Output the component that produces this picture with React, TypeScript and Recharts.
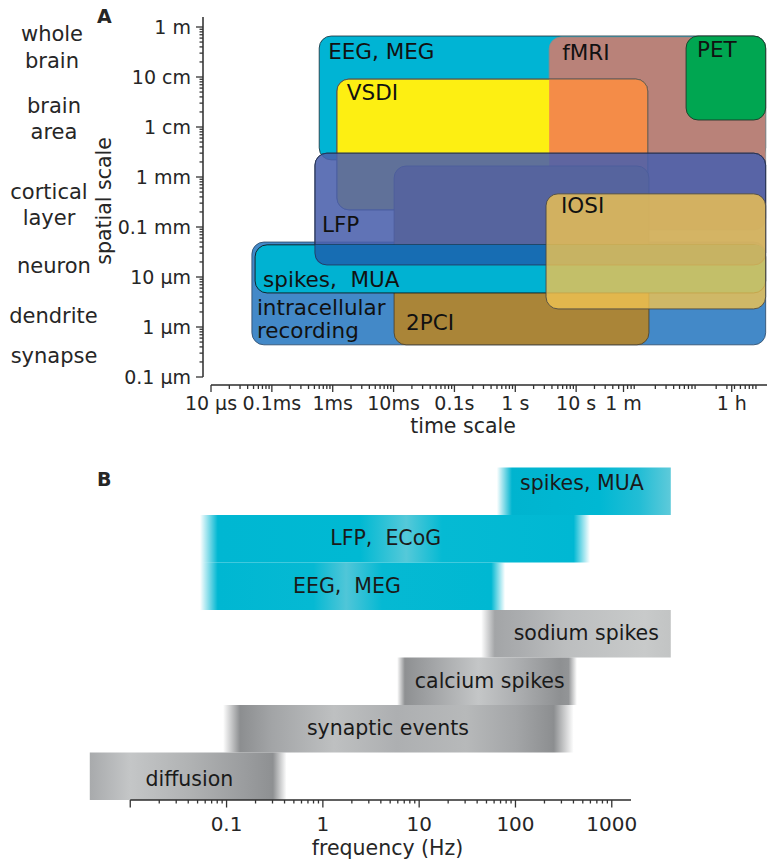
import React from 'react';
import { ComposedChart, XAxis, YAxis, ReferenceArea, ReferenceLine } from 'recharts';

const FONT = '"DejaVu Sans", Verdana, sans-serif';
const INK = '#262626';

// ---------------- Panel A data (time in s, spatial size in m) ----------------
const methodKeys = ['intracellular', 'EEG', 'fMRI', 'PET', 'VSDI', '2PCI', 'LFP', 'spikes', 'IOSI'];
const methodLabels = [['intracellular', 'recording'], ['EEG, MEG'], ['fMRI'], ['PET'], ['VSDI'], ['2PCI'], ['LFP'], ['spikes,  MUA'], ['IOSI']];
const timeLow = [4.7e-5, 6.0e-4, 3.6, 640, 1.17e-3, 0.0102, 5.1e-4, 5.3e-5, 3.2];
const timeHigh = [13000, 13000, 13000, 13000, 150, 157, 13000, 13000, 13000];
const sizeLow = [4.4e-7, 2.2e-3, 8.7e-5, 0.0138, 2.2e-4, 4.4e-7, 1.74e-5, 4.8e-6, 2.3e-6];
const sizeHigh = [5.0e-5, 0.66, 0.63, 0.66, 0.091, 1.66e-3, 3.0e-3, 4.4e-5, 4.6e-4];

const timeTicks = [1e-5, 1e-4, 1e-3, 1e-2, 0.1, 1, 10, 60, 3600];
const timeTickLabels = ['10 µs', '0.1ms', '1ms', '10ms', '0.1s', '1 s', '10 s', '1 m', '1 h'];
const sizeTicks = [1, 0.1, 0.01, 1e-3, 1e-4, 1e-5, 1e-6, 1e-7];
const sizeTickLabels = ['1 m', '10 cm', '1 cm', '1 mm', '0.1 mm', '10 µm', '1 µm', '0.1 µm'];
const scaleLevels = [['whole', 'brain'], ['brain', 'area'], ['cortical', 'layer'], ['neuron'], ['dendrite'], ['synapse']];

// ---------------- Panel B data (frequency in Hz) ----------------
const bandLabels = ['spikes, MUA', 'LFP,  ECoG', 'EEG,  MEG', 'sodium spikes', 'calcium spikes', 'synaptic events', 'diffusion'];
const bandFadeLow = [64, 0.053, 0.053, 44, 5.9, 0.092, 0.0038];
const bandLow = [92, 0.081, 0.081, 61, 7.1, 0.138, 0.0038];
const bandHigh = [4100, 402, 56, 4100, 356, 250, 0.303];
const bandFadeHigh = [4100, 594, 78, 4100, 435, 402, 0.42];
const freqTicks = [0.01, 0.1, 1, 10, 100, 1000];
const freqTickLabels = ['', '0.1', '1', '10', '100', '1000'];

// ---------------- styles ----------------
const X_DOMAIN_A: [number, number] = [Math.pow(10, -5.1315), Math.pow(10, 4.136)];
const Y_DOMAIN_A: [number, number] = [Math.pow(10, -7.16), Math.pow(10, 0.2)];
const X_DOMAIN_B: [number, number] = [Math.pow(10, -2.418), Math.pow(10, 3.615)];
const FREQ_AXIS_END = Math.pow(10, 3.2);

const boxStyle: Record<string, any> = {
  intracellular: { fill: '#4389C8', opacity: 1, stroke: '#2e4c6c' },
  EEG: { fill: '#00B4D4', opacity: 1, stroke: '#1d3440' },
  fMRI: { fill: '#B98279', opacity: 1, stroke: '#8c8c8c' },
  PET: { fill: '#00A651', opacity: 1, stroke: '#1c3326' },
  VSDI: { fill: '#FDEF12', opacity: 1, stroke: '#555555' },
  '2PCI': { fill: '#AA8538', opacity: 1, stroke: '#4f4128' },
  LFP: { fill: '#4A60AC', opacity: 0.88, stroke: '#263355' },
  spikes: { fill: '#00B2D2', opacity: 1, stroke: '#111111' },
  IOSI: { fill: '#EEC252', opacity: 0.82, stroke: '#444444' },
};
const overlapFill: Record<string, string> = { 'VSDI|fMRI': '#F48C48', 'LFP|spikes': '#176DB3' };
const boxLabelPos: Record<string, any> = {
  intracellular: { dx: 5, dy: -30, from: 'bottom' },
  EEG: { dx: 9, dy: 23, from: 'top' },
  fMRI: { dx: 13, dy: 23, from: 'top' },
  PET: { dx: 11, dy: 21, from: 'top' },
  VSDI: { dx: 10, dy: 21, from: 'top' },
  '2PCI': { dx: 12, dy: -15, from: 'bottom' },
  LFP: { dx: 7, dy: -33, from: 'bottom' },
  spikes: { dx: 8, dy: -6, from: 'bottom' },
  IOSI: { dx: 15, dy: 19, from: 'top' },
};
const layers = [
  { key: 'intracellular' },
  { key: 'EEG' },
  { key: 'fMRI' },
  { key: 'PET' },
  { key: 'VSDI' },
  { key: 'VSDI', overlap: 'fMRI' },
  { key: 'VSDI', outlineOnly: true },
  { key: '2PCI' },
  { key: 'LFP' },
  { key: 'spikes' },
  { key: 'LFP', overlap: 'spikes' },
  { key: 'LFP', outlineOnly: true },
  { key: 'IOSI' },
];
const bandStyle: Record<string, any> = {
  'spikes, MUA': { stops: [[0, '#00B4CF'], [0.55, '#00B8D3'], [0.8, '#22BDD5'], [1, '#5ECADA']], dx: -9.5, dy: -7.5 },
  'LFP,  ECoG': { stops: [[0, '#00B7D2'], [0.4, '#00B9D3'], [0.53, '#55C9D9'], [0.63, '#05BAD3'], [1, '#00B8D3']], dx: -10, dy: 0 },
  'EEG,  MEG': { stops: [[0, '#00B7D2'], [0.35, '#05B9D3'], [0.47, '#50C6D8'], [0.6, '#05B9D3'], [1, '#00B8D2']], dx: -7.5, dy: 0 },
  'sodium spikes': { stops: [[0, '#A3A5A7'], [0.15, '#ABADAF'], [0.4, '#BCBEBF'], [0.85, '#C8CACA'], [1, '#C2C4C4']], dx: 3.5, dy: 0 },
  'calcium spikes': { stops: [[0, '#8E9092'], [0.15, '#A0A2A4'], [0.45, '#C4C6C7'], [0.7, '#ABADAF'], [0.95, '#8E9092'], [1, '#939597']], dx: 3, dy: 0 },
  'synaptic events': { stops: [[0, '#8C8E90'], [0.1, '#A2A4A6'], [0.3, '#BEC0C1'], [0.5, '#ADAFB1'], [0.72, '#B7B9BA'], [0.88, '#A3A5A7'], [1, '#8C8E90']], dx: -9, dy: 0 },
  diffusion: { stops: [[0, '#A8AAAC'], [0.22, '#C4C6C7'], [0.55, '#B0B2B3'], [0.85, '#9A9C9E'], [1, '#8E9092']], dx: 8, dy: 3 },
};
const levelPos = [
  { x: 52, ys: [41, 68] },
  { x: 54, ys: [113, 139] },
  { x: 49, ys: [199, 225] },
  { x: 54, ys: [273] },
  { x: 53.5, ys: [323] },
  { x: 54, ys: [363] },
];

// ---------------- helpers ----------------
const lg = Math.log10;
const near = (a: number, b: number) => Math.abs(lg(a / b)) < 1e-6;

function minorTicks(lo: number, hi: number, majors: number[]) {
  const out: number[] = [];
  for (let d = Math.floor(lg(lo)); d <= Math.ceil(lg(hi)); d++) {
    for (let k = 2; k <= 9; k++) {
      const v = k * Math.pow(10, d);
      if (v >= lo * (1 - 1e-9) && v <= hi && !majors.some((m) => near(m, v))) out.push(v);
    }
  }
  return out;
}

const boxes = methodKeys.map((k, i) => ({
  key: k, label: methodLabels[i], t0: timeLow[i], t1: timeHigh[i], s0: sizeLow[i], s1: sizeHigh[i],
}));
const boxByKey: Record<string, any> = Object.fromEntries(boxes.map((b) => [b.key, b]));
const bandRows = bandLabels.map((l, i) => ({ name: l, lo: bandFadeLow[i], row: i + 0.5 }));

function intersect(a: any, b: any) {
  const t0 = Math.max(a.t0, b.t0), t1 = Math.min(a.t1, b.t1);
  const s0 = Math.max(a.s0, b.s0), s1 = Math.min(a.s1, b.s1);
  const src = [a, b];
  const round = [
    src.some((bx) => near(t0, bx.t0) && near(s1, bx.s1)),
    src.some((bx) => near(t1, bx.t1) && near(s1, bx.s1)),
    src.some((bx) => near(t1, bx.t1) && near(s0, bx.s0)),
    src.some((bx) => near(t0, bx.t0) && near(s0, bx.s0)),
  ];
  return { t0, t1, s0, s1, round };
}

function roundedPath(x: number, y: number, w: number, h: number, r: number[]) {
  const m = Math.min(w, h) / 2;
  const [tl, tr, br, bl] = r.map((v) => Math.max(0, Math.min(v, m)));
  return `M${x + tl},${y} H${x + w - tr} A${tr},${tr} 0 0 1 ${x + w},${y + tr} V${y + h - br} A${br},${br} 0 0 1 ${x + w - br},${y + h} H${x + bl} A${bl},${bl} 0 0 1 ${x},${y + h - bl} V${y + tl} A${tl},${tl} 0 0 1 ${x + tl},${y} Z`;
}

const R = 12;

const makeTick = (majors: number[], labels: string[], orient: 'bottom' | 'left', majorLen: number, minorLen: number, fontSize: number, textOff: number) =>
  (props: any) => {
    const { x, y, payload } = props;
    const idx = majors.findIndex((m) => near(m, payload.value));
    const major = idx >= 0;
    const len = major ? majorLen : minorLen;
    if (orient === 'bottom') {
      return (
        <g>
          <line x1={x} y1={y} x2={x} y2={y + len} stroke="#333" strokeWidth={1.3} />
          {major && labels[idx] ? (
            <text x={x} y={y + textOff} textAnchor="middle" fontSize={fontSize} fontFamily={FONT} fill={INK}>{labels[idx]}</text>
          ) : null}
        </g>
      );
    }
    return (
      <g>
        <line x1={x - len} y1={y} x2={x} y2={y} stroke="#333" strokeWidth={1.3} />
        {major && labels[idx] ? (
          <text x={x - textOff} y={y + 7} textAnchor="end" fontSize={fontSize} fontFamily={FONT} fill={INK}>{labels[idx]}</text>
        ) : null}
      </g>
    );
  };

const timeAllTicks = [...timeTicks, ...minorTicks(1e-5, X_DOMAIN_A[1], timeTicks)].sort((a, b) => a - b);
const sizeAllTicks = [...sizeTicks, ...minorTicks(1e-7, Y_DOMAIN_A[1], sizeTicks)].sort((a, b) => a - b);
const freqAllTicks = [...freqTicks, ...minorTicks(0.01, FREQ_AXIS_END, freqTicks)].sort((a, b) => a - b);

const TimeTick = makeTick(timeTicks, timeTickLabels, 'bottom', 7, 4, 19, 25);
const SizeTick = makeTick(sizeTicks, sizeTickLabels, 'left', 7, 3.5, 19, 12);
const FreqTick = makeTick(freqTicks, freqTickLabels, 'bottom', 7.5, 3.5, 20, 31);

function renderLayer(layer: any, i: number) {
  const b = boxByKey[layer.key];
  const st = boxStyle[layer.key];
  if (layer.overlap) {
    const o = boxByKey[layer.overlap];
    const p = intersect(b, o);
    const fill = overlapFill[`${layer.key}|${layer.overlap}`];
    return (
      <ReferenceArea key={`l${i}`} x1={p.t0} x2={p.t1} y1={p.s0} y2={p.s1} ifOverflow="visible"
        shape={(sp: any) => (
          <path d={roundedPath(sp.x, sp.y, sp.width, sp.height, p.round.map((f) => (f ? R : 0)))} fill={fill} stroke="none" />
        )} />
    );
  }
  const lp = boxLabelPos[layer.key];
  return (
    <ReferenceArea key={`l${i}`} x1={b.t0} x2={b.t1} y1={b.s0} y2={b.s1} ifOverflow="visible"
      shape={(sp: any) => {
        const d = roundedPath(sp.x, sp.y, sp.width, sp.height, [R, R, R, R]);
        if (layer.outlineOnly) {
          return <path d={d} fill="none" stroke={st.stroke} strokeWidth={1} strokeOpacity={0.8} />;
        }
        const baseY = lp.from === 'top' ? sp.y + lp.dy : sp.y + sp.height + lp.dy;
        return (
          <g>
            <path d={d} fill={st.fill} fillOpacity={st.opacity} stroke={st.stroke} strokeWidth={1} strokeOpacity={0.85} />
            {b.label.map((t: string, j: number) => (
              <text key={j} x={sp.x + lp.dx} y={baseY + j * 23} fontSize={21.5} fontFamily={FONT} fill="#111" style={{ whiteSpace: 'pre' }}>{t}</text>
            ))}
          </g>
        );
      }} />
  );
}

function renderBand(label: string, i: number) {
  const st = bandStyle[label];
  const a = lg(bandFadeLow[i]), bb = lg(bandFadeHigh[i]);
  const s0 = lg(bandLow[i]), s1 = lg(bandHigh[i]);
  const off = (v: number) => (v - a) / (bb - a);
  const gid = `bandgrad${i}`;
  const stops: any[] = [];
  if (bandFadeLow[i] < bandLow[i]) stops.push({ o: 0, c: st.stops[0][1], op: 0 });
  st.stops.forEach(([f, c]: [number, string]) => stops.push({ o: off(s0 + f * (s1 - s0)), c, op: 1 }));
  if (bandFadeHigh[i] > bandHigh[i]) stops.push({ o: 1, c: st.stops[st.stops.length - 1][1], op: 0 });
  const midFrac = off((s0 + s1) / 2);
  return (
    <ReferenceArea key={`b${i}`} x1={bandFadeLow[i]} x2={bandFadeHigh[i]} y1={i} y2={i + 1} ifOverflow="visible"
      shape={(sp: any) => (
        <g>
          <defs>
            <linearGradient id={gid} x1="0" y1="0" x2="1" y2="0">
              {stops.map((s, k) => (
                <stop key={k} offset={s.o} stopColor={s.c} stopOpacity={s.op} />
              ))}
            </linearGradient>
          </defs>
          <rect x={sp.x} y={sp.y} width={sp.width} height={sp.height} fill={`url(#${gid})`} />
          <text x={sp.x + sp.width * midFrac + st.dx} y={sp.y + sp.height / 2 + 6.5 + st.dy} textAnchor="middle"
            fontSize={20.5} fontFamily={FONT} fill="#1a1a1a" style={{ whiteSpace: 'pre' }}>{label}</text>
        </g>
      )} />
  );
}

export default function App() {
  return (
    <div style={{ position: 'absolute', left: 0, top: 0, width: 767, height: 861, background: '#fff' }}>
      <div style={{ position: 'absolute', left: 0, top: 0 }}>
        <ComposedChart width={767} height={450} data={boxes} margin={{ top: 17, right: 0, bottom: 0, left: 0 }}>
          <XAxis dataKey="t0" type="number" scale="log" domain={X_DOMAIN_A} allowDataOverflow ticks={timeAllTicks} interval={0}
            tick={TimeTick} tickLine={false} axisLine={false} tickSize={0} tickMargin={0} height={65} />
          <YAxis dataKey="s0" type="number" scale="log" domain={Y_DOMAIN_A} allowDataOverflow ticks={sizeAllTicks} interval={0}
            tick={SizeTick} tickLine={false} axisLine={false} tickSize={0} tickMargin={0} width={203} />
          {layers.map((l, i) => renderLayer(l, i))}
          <ReferenceLine segment={[{ x: 1e-5, y: Y_DOMAIN_A[0] }, { x: X_DOMAIN_A[1], y: Y_DOMAIN_A[0] }]} stroke="#2b2b2b" strokeWidth={1.5} ifOverflow="visible" />
          <ReferenceLine segment={[{ x: X_DOMAIN_A[0], y: 1e-7 }, { x: X_DOMAIN_A[0], y: Y_DOMAIN_A[1] }]} stroke="#2b2b2b" strokeWidth={1.5} ifOverflow="visible" />
        </ComposedChart>
      </div>
      <div style={{ position: 'absolute', left: 0, top: 455 }}>
        <ComposedChart width={767} height={406} data={bandRows} margin={{ top: 12.5, right: 96, bottom: 0, left: 90 }}>
          <XAxis dataKey="lo" type="number" scale="log" domain={X_DOMAIN_B} allowDataOverflow ticks={freqAllTicks} interval={0}
            tick={FreqTick} tickLine={false} axisLine={false} tickSize={0} tickMargin={0} height={61} />
          <YAxis dataKey="row" type="number" domain={[0, 7]} reversed hide width={0} allowDataOverflow />
          {bandLabels.map((l, i) => renderBand(l, i))}
          <ReferenceLine segment={[{ x: 0.01, y: 7 }, { x: FREQ_AXIS_END, y: 7 }]} stroke="#2b2b2b" strokeWidth={1.5} ifOverflow="visible" />
        </ComposedChart>
      </div>
      <svg width={767} height={861} style={{ position: 'absolute', left: 0, top: 0, pointerEvents: 'none' }} fontFamily={FONT}>
        <text x={97} y={23} fontWeight="bold" fontSize={19} fill={INK}>A</text>
        <text x={97} y={486} fontWeight="bold" fontSize={19} fill={INK}>B</text>
        {scaleLevels.map((lines, i) =>
          lines.map((t, j) => (
            <text key={`${i}-${j}`} x={levelPos[i].x} y={levelPos[i].ys[j]} textAnchor="middle" fontSize={21} fill={INK}>{t}</text>
          ))
        )}
        <text transform="translate(111,201) rotate(-90)" textAnchor="middle" fontSize={20.5} fill={INK}>spatial scale</text>
        <text x={463} y={433} textAnchor="middle" fontSize={20.5} fill={INK}>time scale</text>
        <text x={387.5} y={855} textAnchor="middle" fontSize={20.5} fill={INK}>frequency (Hz)</text>
      </svg>
    </div>
  );
}
